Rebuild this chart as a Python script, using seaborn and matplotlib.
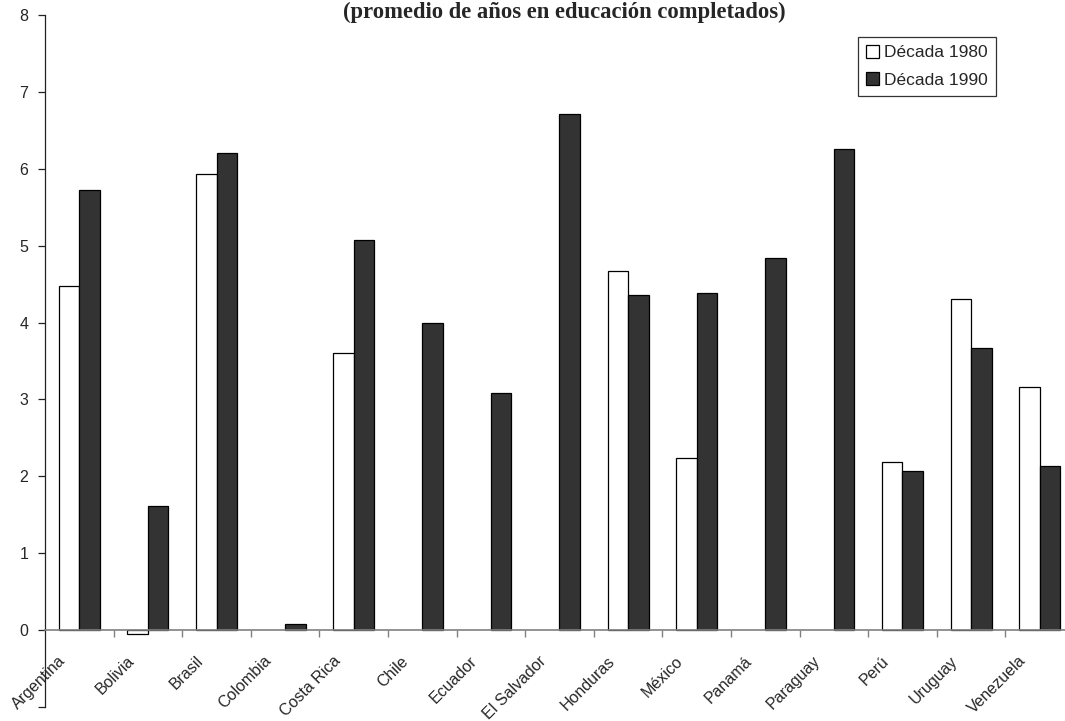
import numpy as np
import pandas as pd
import matplotlib
matplotlib.use("Agg")
import matplotlib.pyplot as plt
from matplotlib.ticker import FixedLocator, NullFormatter
from matplotlib.transforms import ScaledTranslation
import seaborn as sns

paises = ["Argentina", "Bolivia", "Brasil", "Colombia", "Costa Rica", "Chile",
          "Ecuador", "El Salvador", "Honduras", "México", "Panamá", "Paraguay",
          "Perú", "Uruguay", "Venezuela"]
decada_1980 = [4.48, -0.05, 5.93, np.nan, 3.60, np.nan, np.nan, np.nan,
               4.67, 2.24, np.nan, np.nan, 2.18, 4.30, 3.16]
decada_1990 = [5.72, 1.61, 6.21, 0.08, 5.07, 4.00, 3.08, 6.71,
               4.36, 4.39, 4.84, 6.26, 2.07, 3.67, 2.13]
series = ["Década 1980", "Década 1990"]
titulo = "(promedio de años en educación completados)"
y_ticks = [-1, 0, 1, 2, 3, 4, 5, 6, 7, 8]
y_labels = ["", "0", "1", "2", "3", "4", "5", "6", "7", "8"]

df = pd.DataFrame({
    "pais": paises * 2,
    "serie": [series[0]] * len(paises) + [series[1]] * len(paises),
    "valor": decada_1980 + decada_1990,
}).dropna()

sns.set_style("white")
plt.rcParams["font.family"] = ["Liberation Sans", "DejaVu Sans"]

W, H = 1065, 721
fig = plt.figure(figsize=(W / 100, H / 100), dpi=100)
# plot area runs slightly past the right edge of the canvas
ax = fig.add_axes([45 / W, 1 - 707 / H, (1074 - 45) / W, (707 - 15) / H])

sns.barplot(data=df, x="pais", y="valor", hue="serie", order=paises,
            hue_order=series, palette=["white", "#333333"], width=0.6,
            edgecolor="black", linewidth=0.9, saturation=1, errorbar=None,
            ax=ax)

ax.set_xlim(-0.5, len(paises) - 0.5)
ax.set_ylim(-1, 8)
ax.set_xlabel("")
ax.set_ylabel("")

# y axis
ax.set_yticks(y_ticks)
ax.set_yticklabels(y_labels, fontsize=11.5)
ax.tick_params(axis="y", direction="out", length=5, width=0.9, color="#222222",
               left=True, pad=7)
ax.spines["left"].set_color("#222222")
ax.spines["left"].set_linewidth(0.9)

# x axis crossing at zero
ax.spines["bottom"].set_position(("data", 0))
ax.spines["bottom"].set_color("#808080")
ax.spines["bottom"].set_linewidth(1.2)
ax.spines["top"].set_visible(False)
ax.spines["right"].set_visible(False)
ax.xaxis.set_minor_locator(FixedLocator(np.arange(0.5, len(paises) - 0.5, 1)))
ax.xaxis.set_minor_formatter(NullFormatter())
ax.tick_params(axis="x", which="minor", direction="out", length=5, width=1,
               color="#808080", bottom=True)
ax.tick_params(axis="x", which="major", length=0, pad=14)
ax.set_xticks(range(len(paises)))
ax.set_xticklabels(paises, rotation=45, ha="right", va="center",
                   rotation_mode="anchor", fontsize=11.5)
shift = ScaledTranslation(-16 / 100, -9 / 100, fig.dpi_scale_trans)
for lab in ax.get_xticklabels():
    lab.set_transform(lab.get_transform() + shift)

leg = ax.legend(loc="upper left", bbox_to_anchor=(858 / W, 1 - 37 / H),
                bbox_transform=fig.transFigure, frameon=True, fancybox=False,
                fontsize=12.5, handlelength=0.75, handleheight=0.75,
                handletextpad=0.3, borderpad=0.45, labelspacing=0.7,
                borderaxespad=0)
leg.get_frame().set_edgecolor("black")
leg.get_frame().set_linewidth(0.9)

fig.text(564 / W, 1 - 2 / H, titulo, ha="center", va="top",
         fontsize=16.3, fontweight="bold", family="Liberation Serif")

fig.savefig("out.png", dpi=100)
